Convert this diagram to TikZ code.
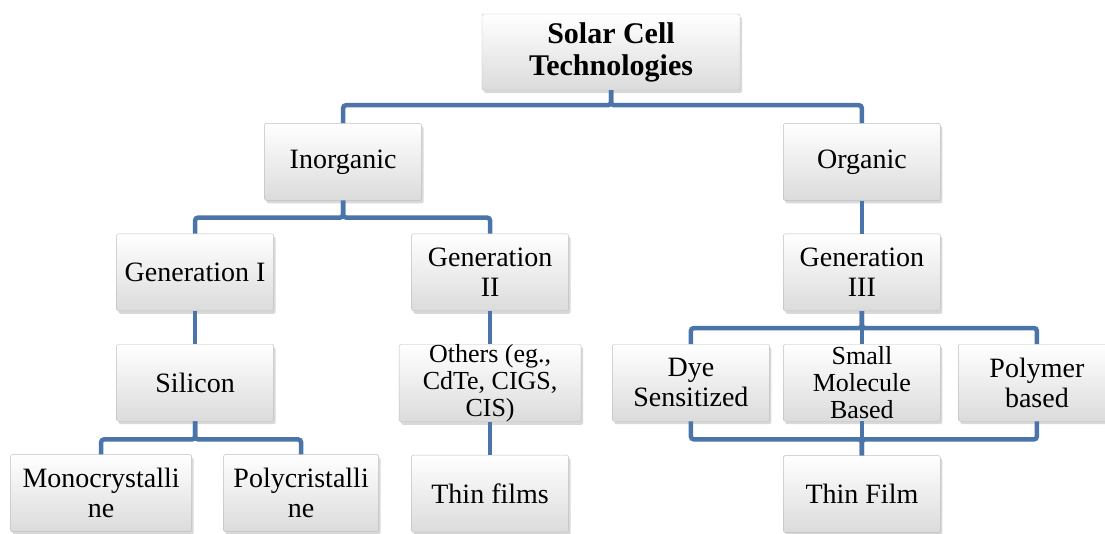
\documentclass[tikz,border=0pt]{standalone}
\usepackage{fontspec}
\setmainfont{Liberation Serif}
\usetikzlibrary{positioning,shadows}
\definecolor{linkblue}{RGB}{74,116,170}

\begin{document}
\begin{tikzpicture}[
    node distance=33pt,
    box/.style={draw=black!25, top color=white, bottom color=black!14, rounded corners=1.5pt, align=center, minimum width=157pt, minimum height=77pt, inner sep=2pt, font=\fontsize{28}{30}\selectfont, drop shadow={shadow xshift=2pt, shadow yshift=-3pt, opacity=0.3}},
    rootbox/.style={box, minimum width=258pt, minimum height=76pt, font=\fontsize{30}{32}\selectfont\bfseries},
    smallbox/.style={box, inner ysep=0pt, font=\fontsize{26}{27}\selectfont},
    link/.style={draw=linkblue, line width=4.5pt, rounded corners=3pt}
]
\useasboundingbox (-611pt,52pt) rectangle (494pt,-481pt);
\node[rootbox] (root) {Solar Cell\\Technologies};
\node[box, below left=33pt and 60pt of root] (inorg) {Inorganic};
\node[box, below right=33pt and 43pt of root] (org) {Organic};
\node[box, below=of inorg, xshift=-148pt] (gen1) {Generation I};
\node[box, below=of inorg, xshift=147pt] (gen2) {Generation\\II};
\node[box, below=of org] (gen3) {Generation\\III};
\node[box, below=of gen1] (silicon) {Silicon};
\node[smallbox, below=of gen2, minimum width=182pt] (others) {Others (eg.,\\CdTe, CIGS,\\CIS)};
\node[box, below=of silicon, xshift=-94pt, minimum width=181pt] (mono) {Monocrystalli\\ne};
\node[box, below=of silicon, xshift=106pt, minimum width=155pt] (poly) {Polycristalli\\ne};
\node[box, below=of others] (thinfilms) {Thin films};
\node[box, below=of gen3, xshift=-171pt] (dye) {Dye\\Sensitized};
\node[smallbox, below=of gen3] (small) {Small\\Molecule\\Based};
\node[box, below=of gen3, xshift=175pt] (polymer) {Polymer\\based};
\node[box, below=34pt of small] (thinfilm) {Thin Film};
\draw[link] (root.south) -- ++(0,-15pt) -| (inorg.north);
\draw[link] (root.south) -- ++(0,-15pt) -| (org.north);
\draw[link] (inorg.south) -- ++(0,-17pt) -| (gen1.north);
\draw[link] (inorg.south) -- ++(0,-17pt) -| (gen2.north);
\draw[link] (org.south) -- (gen3.north);
\draw[link] (gen1.south) -- (silicon.north);
\draw[link] (gen2.south) -- (others.north);
\draw[link] (others.south) -- (thinfilms.north);
\draw[link] (silicon.south) -- ++(0,-18pt) -| (mono.north);
\draw[link] (silicon.south) -- ++(0,-18pt) -| (poly.north);
\draw[link] (gen3.south) -- ++(0,-17pt) -| (dye.north);
\draw[link] (gen3.south) -- ++(0,-17pt) -| (polymer.north);
\draw[link] (gen3.south) -- (small.north);
\draw[link] (dye.south) -- ++(0,-18pt) -| (thinfilm.north);
\draw[link] (polymer.south) -- ++(0,-18pt) -| (thinfilm.north);
\draw[link] (small.south) -- (thinfilm.north);
\end{tikzpicture}
\end{document}
